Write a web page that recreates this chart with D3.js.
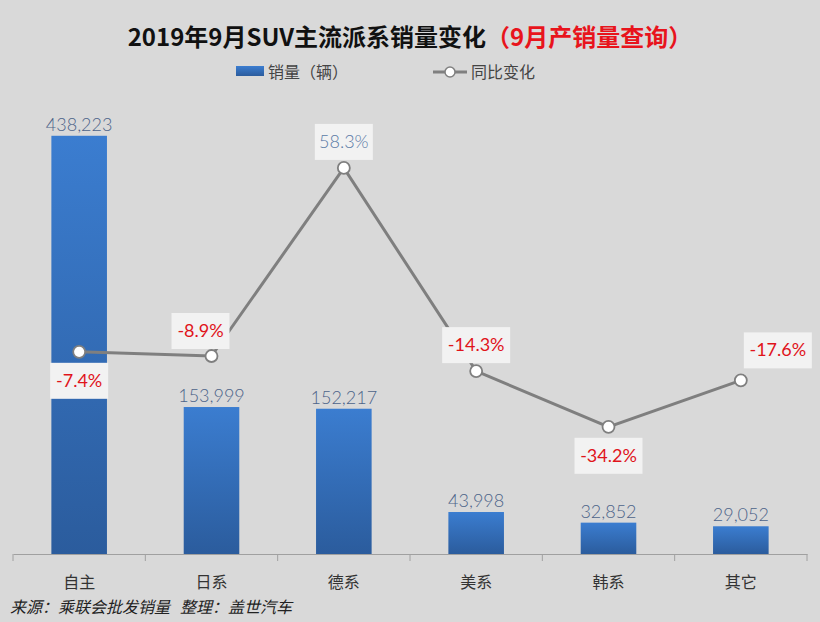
<!DOCTYPE html>
<html><head><meta charset="utf-8">
<script src="https://cdn.jsdelivr.net/npm/d3@7"></script>
<style>
html,body{margin:0;padding:0;background:#d9d9d9;}
svg{display:block;}
</style></head>
<body><svg id="c" width="820" height="622"></svg>
<script>
const categories = ["自主","日系","德系","美系","韩系","其它"];
const sales = [438223,153999,152217,43998,32852,29052];
const yoy = [-7.4,-8.9,58.3,-14.3,-34.2,-17.6];
const labelPos = ["below","above-left","above","above","below","above-right"];
const titleMain = "2019年9月SUV主流派系销量变化";
const titleSub = "（9月产销量查询）";
const legendLabels = ["销量（辆）","同比变化"];
const sourceParts = ["来源：乘联会批发销量","整理：盖世汽车"];

const svg = d3.select("#c");
const W = 820, H = 622;
svg.append("rect").attr("width",W).attr("height",H).attr("fill","#d9d9d9");

const cjk = "'Noto Sans CJK SC','Noto Sans',sans-serif";
const num = "Lato,'Open Sans',sans-serif";

const x = d3.scaleBand().domain(categories).range([13,807]).paddingInner(0.58).paddingOuter(0.29);
const xb = d3.scaleBand().domain(categories).range([13,807]);
const y = d3.scaleLinear().domain([0,460000]).range([554,115]);
const y2 = d3.scaleLinear().domain([-80,79]).range([555,110]);

const defs = svg.append("defs");
const g = defs.append("linearGradient").attr("id","bg").attr("x1",0).attr("x2",0).attr("y1",0).attr("y2",1);
g.append("stop").attr("offset","0%").attr("stop-color","#3b7dd0");
g.append("stop").attr("offset","100%").attr("stop-color","#2b5c9d");

// title
const t = svg.append("text").attr("x",410).attr("y",46).attr("text-anchor","middle")
  .attr("font-family",cjk).attr("font-weight","bold").attr("font-size",24);
t.append("tspan").attr("fill","#111").text(titleMain);
t.append("tspan").attr("fill","#e8141c").text(titleSub);

// legend
svg.append("rect").attr("x",236).attr("y",66).attr("width",28).attr("height",10).attr("fill","url(#bg)");
svg.append("text").attr("x",268).attr("y",78).attr("font-family",cjk).attr("font-size",16).attr("fill","#444").text(legendLabels[0]);
svg.append("line").attr("x1",433).attr("x2",467).attr("y1",72).attr("y2",72).attr("stroke","#808080").attr("stroke-width",3);
svg.append("circle").attr("cx",450).attr("cy",72).attr("r",5).attr("fill","#fff").attr("stroke","#808080").attr("stroke-width",1.5);
svg.append("text").attr("x",471).attr("y",78).attr("font-family",cjk).attr("font-size",16).attr("fill","#444").text(legendLabels[1]);

// bars
svg.append("g").selectAll("rect").data(categories).join("rect")
  .attr("x",d=>x(d)).attr("width",x.bandwidth())
  .attr("y",(d,i)=>y(sales[i])).attr("height",(d,i)=>y(0)-y(sales[i]))
  .attr("fill","url(#bg)");

svg.append("g").selectAll("text").data(categories).join("text")
  .attr("x",d=>x(d)+x.bandwidth()/2).attr("y",(d,i)=>y(sales[i])-5)
  .attr("text-anchor","middle").attr("font-family",num).attr("font-weight",300).attr("font-size",18)
  .attr("fill","#4d6489").text((d,i)=>d3.format(",")(sales[i]));

// axis
const ax = svg.append("g").attr("transform","translate(0,554)")
  .call(d3.axisBottom(xb).tickSize(0).tickFormat(""));
ax.select(".domain").attr("stroke","#a0a0a0").attr("stroke-width",1);
const bounds = categories.map(c=>xb(c)).concat([xb(categories[5])+xb.bandwidth()]);
svg.append("g").selectAll("line").data(bounds).join("line")
  .attr("x1",d=>d).attr("x2",d=>d).attr("y1",554).attr("y2",561).attr("stroke","#a0a0a0");
svg.append("g").selectAll("text").data(categories).join("text")
  .attr("x",d=>xb(d)+xb.bandwidth()/2).attr("y",588).attr("text-anchor","middle")
  .attr("font-family",cjk).attr("font-size",16).attr("fill","#333").text(d=>d);

// line
const cx = d=>xb(d)+xb.bandwidth()/2;
const line = d3.line().x((d,i)=>cx(categories[i])).y(d=>y2(d));
svg.append("path").datum(yoy).attr("d",line).attr("fill","none").attr("stroke","#7f7f7f").attr("stroke-width",3);
svg.append("g").selectAll("circle").data(yoy).join("circle")
  .attr("cx",(d,i)=>cx(categories[i])).attr("cy",d=>y2(d)).attr("r",6)
  .attr("fill","#fff").attr("stroke","#7f7f7f").attr("stroke-width",1.8);

// labels
const lg = svg.append("g");
yoy.forEach((v,i)=>{
  const px = cx(categories[i]), py = y2(v);
  const txt = v.toFixed(1)+"%";
  const bw = txt.length>5?68:58, bh=36;
  let bx, by;
  const p = labelPos[i];
  if(p==="below"){bx=px-bw/2; by=py+11;}
  else if(p==="above"){bx=px-bw/2; by=py-bh-8;}
  else if(p==="above-left"){bx=px-bw+18; by=py-bh-7;}
  else {bx=px+3; by=py-bh-12;}
  lg.append("rect").attr("x",bx).attr("y",by).attr("width",bw).attr("height",bh).attr("fill","#f2f2f2");
  lg.append("text").attr("x",bx+bw/2).attr("y",by+bh/2+6).attr("text-anchor","middle")
    .attr("font-family",num).attr("font-size",18).attr("font-weight",v<0?400:300)
    .attr("fill",v<0?"#e0141b":"#5a7aa6").text(txt);
});

// source
const st = svg.append("text").attr("x",10).attr("y",613).attr("font-family",cjk).attr("font-size",16)
  .attr("font-style","italic").attr("fill","#222");
st.append("tspan").text(sourceParts[0]);
st.append("tspan").attr("dx",10).text(sourceParts[1]);
</script></body></html>
